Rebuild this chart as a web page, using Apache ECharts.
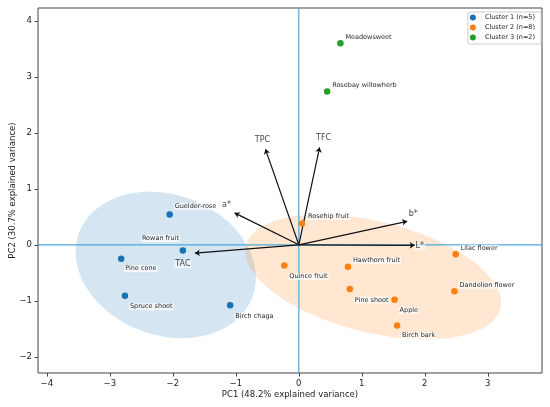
<!doctype html>
<html>
<head>
<meta charset="utf-8">
<title>PCA biplot</title>
<style>
html, body { margin: 0; padding: 0; background: #fff; }
#main { width: 550px; height: 407px; }
</style>
</head>
<body>
<div id="main"></div>
<script src="https://cdn.jsdelivr.net/npm/echarts@6/dist/echarts.min.js"></script>
<script>
// cluster 1
var names1 = ['Guelder-rose', 'Rowan fruit', 'Pine cone', 'Spruce shoot', 'Birch chaga'];
var pc1_1 = [-2.05, -1.84, -2.82, -2.76, -1.09];
var pc2_1 = [0.54, -0.10, -0.25, -0.91, -1.08];
// cluster 2
var names2 = ['Rosehip fruit', 'Quince fruit', 'Hawthorn fruit', 'Pine shoot', 'Apple', 'Lilac flower', 'Dandelion flower', 'Birch bark'];
var pc1_2 = [0.05, -0.23, 0.78, 0.81, 1.52, 2.49, 2.47, 1.56];
var pc2_2 = [0.38, -0.37, -0.39, -0.79, -0.98, -0.17, -0.83, -1.44];
// cluster 3
var names3 = ['Meadowsweet', 'Rosebay willowherb'];
var pc1_3 = [0.66, 0.45];
var pc2_3 = [3.60, 2.74];
// loadings (arrows)
var loadNames = ['TPC', 'TFC', 'a*', 'b*', 'L*', 'TAC'];
var loadPc1 = [-0.53, 0.33, -1.02, 1.72, 1.84, -1.65];
var loadPc2 = [1.71, 1.74, 0.57, 0.42, -0.01, -0.15];
// axis ticks
var xTicks = [-4, -3, -2, -1, 0, 1, 2, 3];
var yTicks = [-2, -1, 0, 1, 2, 3, 4];
var xLabel = 'PC1 (48.2% explained variance)';
var yLabel = 'PC2 (30.7% explained variance)';

// label placement (pixels, left edge / vertical centre relative to the point)
var labelPos = {
  'Guelder-rose': [4, -8], 'Rowan fruit': [-42, -12], 'Pine cone': [3, 10],
  'Spruce shoot': [4, 11], 'Birch chaga': [4, 11], 'Rosehip fruit': [5, -7],
  'Quince fruit': [4, 11], 'Hawthorn fruit': [4, -6], 'Pine shoot': [4, 11],
  'Apple': [4, 11], 'Lilac flower': [4, -6], 'Dandelion flower': [4, -6],
  'Birch bark': [4, 10], 'Meadowsweet': [4, -6], 'Rosebay willowherb': [4, -6]
};
var loadLabelPos = {
  'TPC': [-3, -9], 'TFC': [4, -9], 'a*': [-8, -8],
  'b*': [6, -7], 'L*': [5, 1], 'TAC': [-12, 11]
};

var FONT = 'DejaVu Sans';
var colors = ['#1673b6', '#ff7f0e', '#22a02a'];
var fills = ['rgba(31,119,180,0.19)', 'rgba(255,127,14,0.19)'];
var zeroColor = '#4aa9de';

function mean(a) {
  var s = 0;
  for (var i = 0; i < a.length; i++) s += a[i];
  return s / a.length;
}

// confidence ellipse (n std) from sample covariance
function ellipsePts(xs, ys, nstd) {
  var mx = mean(xs), my = mean(ys), n = xs.length;
  var sxx = 0, syy = 0, sxy = 0;
  for (var i = 0; i < n; i++) {
    sxx += (xs[i] - mx) * (xs[i] - mx);
    syy += (ys[i] - my) * (ys[i] - my);
    sxy += (xs[i] - mx) * (ys[i] - my);
  }
  sxx /= n - 1; syy /= n - 1; sxy /= n - 1;
  var m = (sxx + syy) / 2, r = Math.sqrt((sxx - syy) * (sxx - syy) / 4 + sxy * sxy);
  var a = nstd * Math.sqrt(m + r), b = nstd * Math.sqrt(Math.max(m - r, 0));
  var th = 0.5 * Math.atan2(2 * sxy, sxx - syy);
  var c = Math.cos(th), s = Math.sin(th), pts = [];
  for (var k = 0; k < 120; k++) {
    var t = k / 120 * Math.PI * 2;
    var u = a * Math.cos(t), v = b * Math.sin(t);
    pts.push([mx + u * c - v * s, my + u * s + v * c]);
  }
  return pts;
}

function ellipseSeries(xs, ys, fill) {
  var pts = ellipsePts(xs, ys, 2);
  return {
    type: 'custom', z: 1, silent: true,
    data: [[mean(xs), mean(ys)]],
    renderItem: function (params, api) {
      return {
        type: 'polygon',
        shape: { points: pts.map(function (p) { return api.coord(p); }) },
        style: { fill: fill }
      };
    }
  };
}

function clusterSeries(name, names, xs, ys, color) {
  var data = [];
  for (var i = 0; i < names.length; i++) {
    var off = labelPos[names[i]] || [4, -6];
    data.push({ name: names[i], value: [xs[i], ys[i]], label: { offset: off } });
  }
  return {
    name: name, type: 'scatter', z: 4, symbolSize: 6.5,
    itemStyle: { color: color, opacity: 1 },
    emphasis: { disabled: true },
    label: {
      show: true, position: 'inside', align: 'left', verticalAlign: 'middle',
      formatter: '{b}', fontFamily: FONT, fontSize: 6.5, color: '#2a2a2a',
      backgroundColor: 'rgba(255,255,255,0.7)', padding: [0, 1]
    },
    data: data
  };
}

var arrows = [], tips = [];
for (var i = 0; i < loadNames.length; i++) {
  arrows.push({ coords: [[0, 0], [loadPc1[i], loadPc2[i]]] });
  tips.push({ name: loadNames[i], value: [loadPc1[i], loadPc2[i]], label: { offset: loadLabelPos[loadNames[i]] } });
}

var c1 = 'Cluster 1 (n=' + names1.length + ')';
var c2 = 'Cluster 2 (n=' + names2.length + ')';
var c3 = 'Cluster 3 (n=' + names3.length + ')';

function tickFmt(v) { return String(v).replace('-', '\u2212'); }

var myChart = echarts.init(document.getElementById('main'), null, { renderer: 'canvas' });
var option = {
  animation: false,
  backgroundColor: '#fff',
  grid: {
    left: 38, right: 8, top: 8, bottom: 34, outerBoundsMode: 'none', containLabel: false,
    show: true, borderColor: '#444', borderWidth: 1, backgroundColor: 'transparent'
  },
  legend: {
    data: [c1, c2, c3], orient: 'vertical', right: 9, top: 12,
    icon: 'circle', itemWidth: 14, itemHeight: 6, itemGap: 3,
    padding: [2, 6, 3, 2], borderColor: '#ccc', borderWidth: 1, borderRadius: 2,
    backgroundColor: 'rgba(255,255,255,0.8)',
    textStyle: { fontFamily: FONT, fontSize: 6.5, color: '#222', lineHeight: 7 }
  },
  xAxis: {
    type: 'value', min: -4.14, max: 3.86,
    name: xLabel, nameLocation: 'middle', nameGap: 17, nameMoveOverlap: false,
    nameTextStyle: { fontFamily: FONT, fontSize: 8.5, color: '#222' },
    axisLine: { show: false, onZero: false },
    axisTick: { show: true, length: 3.5, customValues: xTicks, lineStyle: { color: '#444' } },
    axisLabel: { customValues: xTicks, formatter: tickFmt, margin: 6, fontFamily: FONT, fontSize: 8.5, color: '#222' },
    splitLine: { show: false }
  },
  yAxis: {
    type: 'value', min: -2.29, max: 4.23,
    name: yLabel, nameLocation: 'middle', nameGap: 21, nameRotate: 90, nameMoveOverlap: false,
    nameTextStyle: { fontFamily: FONT, fontSize: 8.5, color: '#222' },
    axisLine: { show: false, onZero: false },
    axisTick: { show: true, length: 3.5, customValues: yTicks, lineStyle: { color: '#444' } },
    axisLabel: { customValues: yTicks, formatter: tickFmt, margin: 6, fontFamily: FONT, fontSize: 8.5, color: '#222' },
    splitLine: { show: false }
  },
  series: [
    ellipseSeries(pc1_1, pc2_1, fills[0]),
    ellipseSeries(pc1_2, pc2_2, fills[1]),
    {
      // zero reference lines across the whole plot
      type: 'custom', z: 2, silent: true,
      data: [[0, 0]],
      renderItem: function (params, api) {
        var o = api.coord([api.value(0), api.value(1)]);
        var cs = params.coordSys;
        var st = { stroke: zeroColor, lineWidth: 1.2, fill: null };
        return {
          type: 'group',
          children: [
            { type: 'line', shape: { x1: cs.x, y1: o[1], x2: cs.x + cs.width, y2: o[1] }, style: st },
            { type: 'line', shape: { x1: o[0], y1: cs.y, x2: o[0], y2: cs.y + cs.height }, style: st }
          ]
        };
      }
    },
    {
      type: 'lines', coordinateSystem: 'cartesian2d', z: 3, silent: true,
      symbol: ['none', 'arrow'], symbolSize: 5,
      lineStyle: { color: '#111', width: 1.2, opacity: 1, curveness: 0 },
      data: arrows
    },
    clusterSeries(c1, names1, pc1_1, pc2_1, colors[0]),
    clusterSeries(c2, names2, pc1_2, pc2_2, colors[1]),
    clusterSeries(c3, names3, pc1_3, pc2_3, colors[2]),
    {
      type: 'scatter', z: 5, symbolSize: 0, silent: true,
      label: {
        show: true, position: 'inside', formatter: '{b}',
        fontFamily: FONT, fontSize: 8, color: '#111',
        backgroundColor: 'rgba(255,255,255,0.7)', padding: [0, 1]
      },
      data: tips
    }
  ]
};
myChart.setOption(option);
</script>
</body>
</html>
